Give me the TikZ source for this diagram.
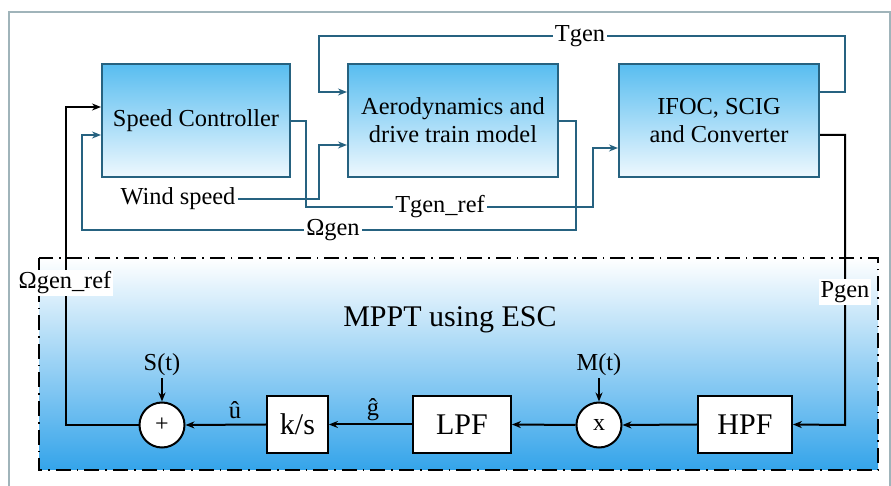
\documentclass[tikz,border=0pt]{standalone}
\usepackage{fontspec}
\setmainfont{Liberation Serif}
\newfontfamily\timesfont{Liberation Serif}
\usepackage{tikz}
\usetikzlibrary{arrows.meta,positioning,backgrounds}

\definecolor{boxtop}{RGB}{88,189,240}
\definecolor{boxbot}{RGB}{238,248,254}
\definecolor{edge}{RGB}{38,98,128}
\definecolor{esc}{RGB}{52,164,234}
\definecolor{frame}{RGB}{160,180,186}

\begin{document}
\begin{tikzpicture}[x=0.5pt, y=-0.5pt,
    every node/.style={font=\timesfont},
    block/.style={rectangle, draw=edge, line width=1pt, top color=boxtop, bottom color=boxbot,
        minimum height=56.5pt, align=center, font=\timesfont\fontsize{12.2}{14}\selectfont},
    escbox/.style={rectangle, draw=black, line width=0.9pt, fill=white, minimum height=28.5pt,
        font=\timesfont\fontsize{15}{17}\selectfont},
    junct/.style={circle, draw=black, line width=1pt, fill=white, minimum size=22.5pt, inner sep=0pt,
        font=\timesfont\fontsize{12}{14}\selectfont},
    lbl/.style={font=\timesfont\fontsize{12.2}{14}\selectfont, inner sep=1pt},
    sig/.style={draw=edge, line width=0.8pt},
    blk/.style={draw=black, line width=1pt},
    tip/.style={-{Stealth[length=4.5pt, width=3.5pt]}}
]
    \useasboundingbox (0,0) rectangle (891,486);
    \draw[frame, line width=0.6pt] (9,500) -- (9,12) -- (890,12) -- (890,500);

    % MPPT region
    \fill[top color=white, bottom color=esc] (39,258) rectangle (878,470);
    \draw[line width=1pt, dash pattern=on 7.5pt off 3pt on 0.8pt off 3pt] (39,258) rectangle (878,470);
    \node[font=\timesfont\fontsize{15}{17}\selectfont] (mppt) at (450,320) {MPPT using ESC};

    % Upper blocks
    \node[block, minimum width=94pt] (spd) at (196,120.5) {Speed Controller};
    \node[block, minimum width=105pt] (aero) at (453,120.5) {Aerodynamics and\\drive train model};
    \node[block, minimum width=100pt] (ifoc) at (719,120.5) {IFOC, SCIG\\and Converter};

    \node[lbl] (wind) at (178,199) {Wind speed};

    % Upper connectors
    \draw[sig, tip] (ifoc.east |- 0,92) -| (845,36) -| (319,92) -- (aero.west |- 0,92);
    \draw[sig, tip] (wind.east) -| (319,145) -- (aero.west |- 0,145);
    \draw[sig, tip] (spd.east |- 0,121) -| (306,207) -| (593,148) -- (ifoc.west |- 0,148);
    \draw[sig, tip] (aero.east |- 0,121) -| (576,230) -| (82,135) -- (spd.west |- 0,135);
    \fill[edge] (306,199) circle (1.5);
    \fill[edge] (576,207) circle (1.5);

    \node[lbl, fill=white] (tgen) at (580,36) {Tgen};
    \node[lbl, fill=white] (tgenref) at (440,207) {Tgen\_ref};
    \node[lbl, fill=white] (omgen) at (333,230) {Ωgen};

    % ESC loop
    \node[junct] (sum) at (162,425) {+};
    \node[escbox, minimum width=30.5pt] (ks) at (297.5,424.5) {k/s};
    \node[escbox, minimum width=49pt] (lpf) at (462,424.5) {LPF};
    \node[junct] (mult) at (599,425) {x};
    \node[escbox, minimum width=47pt] (hpf) at (745,424.5) {HPF};

    \node[lbl] (st) at (162,365) {S(t)};
    \node[lbl] (mt) at (599,365) {M(t)};
    \node[lbl] (uhat) at (235,410) {û};
    \node[lbl] (ghat) at (373,410) {ĝ};

    \draw[blk, tip] (ifoc.east |- 0,135) -| (845,425) -- (hpf.east);
    \draw[blk, tip] (hpf.west) -- (mult.east);
    \draw[blk, tip] (mult.west) -- (lpf.east);
    \draw[blk, tip] (lpf.west) -- (ks.east);
    \draw[blk, tip] (ks.west) -- (sum.east);
    \draw[blk, tip] (st.south) -- (sum.north);
    \draw[blk, tip] (mt.south) -- (mult.north);
    \draw[blk, tip] (sum.west) -| (66,107) -- (spd.west |- 0,107);

    \node[lbl, fill=white] (pgen) at (845,292) {Pgen};
    \node[lbl, fill=white] (omref) at (65,283) {Ωgen\_ref};
\end{tikzpicture}
\end{document}
